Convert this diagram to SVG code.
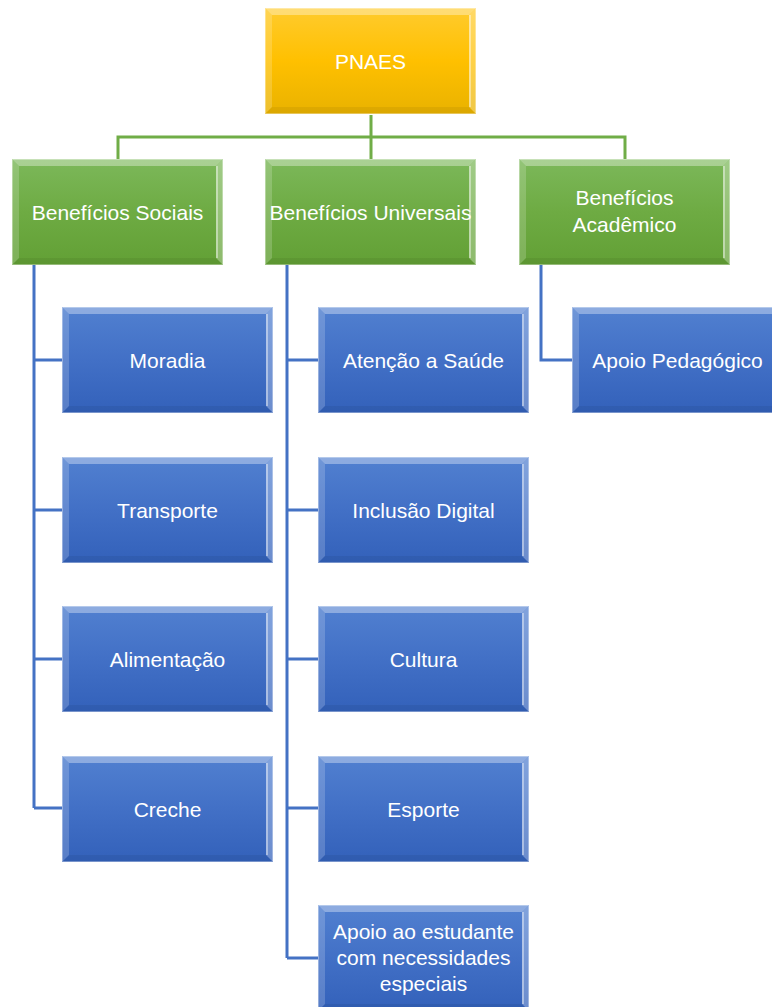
<svg xmlns="http://www.w3.org/2000/svg" xmlns:xlink="http://www.w3.org/1999/xlink" width="772" height="1007" viewBox="0 0 772 1007">
  <defs>
    <linearGradient id="gGold" x1="0" y1="0" x2="0" y2="1">
      <stop offset="0" stop-color="#FFCB2E"/>
      <stop offset="0.5" stop-color="#FFC000"/>
      <stop offset="1" stop-color="#E9B200"/>
    </linearGradient>
    <linearGradient id="gGreen" x1="0" y1="0" x2="0" y2="1">
      <stop offset="0" stop-color="#7CB85A"/>
      <stop offset="0.5" stop-color="#6EAB43"/>
      <stop offset="1" stop-color="#62A035"/>
    </linearGradient>
    <linearGradient id="gBlue" x1="0" y1="0" x2="0" y2="1">
      <stop offset="0" stop-color="#5180D0"/>
      <stop offset="0.5" stop-color="#4270C6"/>
      <stop offset="1" stop-color="#3361BA"/>
    </linearGradient>
    <!-- bevel shading shared by every box (211 x 106) -->
    <g id="bevel">
      <polygon points="0,0 211,0 204,7 7,7" fill="#ffffff" opacity="0.35"/>
      <polygon points="0,0 7,7 7,99 0,106" fill="#ffffff" opacity="0.18"/>
      <polygon points="211,0 211,106 204,99 204,7" fill="#ffffff" opacity="0.28"/>
      <line x1="205" y1="7" x2="205" y2="99" stroke="#ffffff" stroke-width="1.2" opacity="0.7"/>
      <polygon points="0,106 7,99 204,99 211,106" fill="#000000" opacity="0.06"/>
      <rect x="0.5" y="0.5" width="210" height="105" fill="none" stroke="#ffffff" stroke-width="1" opacity="0.35"/>
    </g>
  </defs>
  <style>
    .conn-g { fill: none; stroke: #70AD47; stroke-width: 3; }
    .conn-b { fill: none; stroke: #4472C4; stroke-width: 3; }
    .lbl { font-family: "Liberation Sans", Arial, sans-serif; font-size: 21px; fill: #ffffff; text-anchor: middle; }
  </style>
  <rect width="772" height="1007" fill="#ffffff"/>

  <g id="connectors">
    <path class="conn-g" d="M371 115V159M118 159V137H625V159"/>
    <path class="conn-b" d="M34 265V808M34 360H62M34 510H62M34 659H62M34 808H62"/>
    <path class="conn-b" d="M287 265V958M287 360H318M287 510H318M287 659H318M287 808H318M287 958H318"/>
    <path class="conn-b" d="M541 264V360H572"/>
  </g>

  <g id="pnaes" transform="translate(265,8)">
    <rect width="211" height="106" fill="url(#gGold)"/>
    <use xlink:href="#bevel"/>
    <text class="lbl" x="105.5" y="61">PNAES</text>
  </g>

  <g id="beneficios-sociais" transform="translate(12,159)">
    <rect width="211" height="106" fill="url(#gGreen)"/>
    <use xlink:href="#bevel"/>
    <text class="lbl" x="105.5" y="61">Benefícios Sociais</text>
  </g>
  <g id="beneficios-universais" transform="translate(265,159)">
    <rect width="211" height="106" fill="url(#gGreen)"/>
    <use xlink:href="#bevel"/>
    <text class="lbl" x="105.5" y="61">Benefícios Universais</text>
  </g>
  <g id="beneficios-academico" transform="translate(519,159)">
    <rect width="211" height="106" fill="url(#gGreen)"/>
    <use xlink:href="#bevel"/>
    <text class="lbl" x="105.5" y="46">Benefícios</text>
    <text class="lbl" x="105.5" y="73">Acadêmico</text>
  </g>

  <g id="moradia" transform="translate(62,307)">
    <rect width="211" height="106" fill="url(#gBlue)"/>
    <use xlink:href="#bevel"/>
    <text class="lbl" x="105.5" y="61">Moradia</text>
  </g>
  <g id="transporte" transform="translate(62,457)">
    <rect width="211" height="106" fill="url(#gBlue)"/>
    <use xlink:href="#bevel"/>
    <text class="lbl" x="105.5" y="61">Transporte</text>
  </g>
  <g id="alimentacao" transform="translate(62,606)">
    <rect width="211" height="106" fill="url(#gBlue)"/>
    <use xlink:href="#bevel"/>
    <text class="lbl" x="105.5" y="61">Alimentação</text>
  </g>
  <g id="creche" transform="translate(62,756)">
    <rect width="211" height="106" fill="url(#gBlue)"/>
    <use xlink:href="#bevel"/>
    <text class="lbl" x="105.5" y="61">Creche</text>
  </g>

  <g id="atencao-saude" transform="translate(318,307)">
    <rect width="211" height="106" fill="url(#gBlue)"/>
    <use xlink:href="#bevel"/>
    <text class="lbl" x="105.5" y="61">Atenção a Saúde</text>
  </g>
  <g id="inclusao-digital" transform="translate(318,457)">
    <rect width="211" height="106" fill="url(#gBlue)"/>
    <use xlink:href="#bevel"/>
    <text class="lbl" x="105.5" y="61">Inclusão Digital</text>
  </g>
  <g id="cultura" transform="translate(318,606)">
    <rect width="211" height="106" fill="url(#gBlue)"/>
    <use xlink:href="#bevel"/>
    <text class="lbl" x="105.5" y="61">Cultura</text>
  </g>
  <g id="esporte" transform="translate(318,756)">
    <rect width="211" height="106" fill="url(#gBlue)"/>
    <use xlink:href="#bevel"/>
    <text class="lbl" x="105.5" y="61">Esporte</text>
  </g>
  <g id="apoio-estudante" transform="translate(318,905)">
    <rect width="211" height="106" fill="url(#gBlue)"/>
    <use xlink:href="#bevel"/>
    <text class="lbl" x="105.5" y="34">Apoio ao estudante</text>
    <text class="lbl" x="105.5" y="60">com necessidades</text>
    <text class="lbl" x="105.5" y="86">especiais</text>
  </g>

  <g id="apoio-pedagogico" transform="translate(572,307)">
    <rect width="211" height="106" fill="url(#gBlue)"/>
    <use xlink:href="#bevel"/>
    <text class="lbl" x="105.5" y="61">Apoio Pedagógico</text>
  </g>
</svg>
